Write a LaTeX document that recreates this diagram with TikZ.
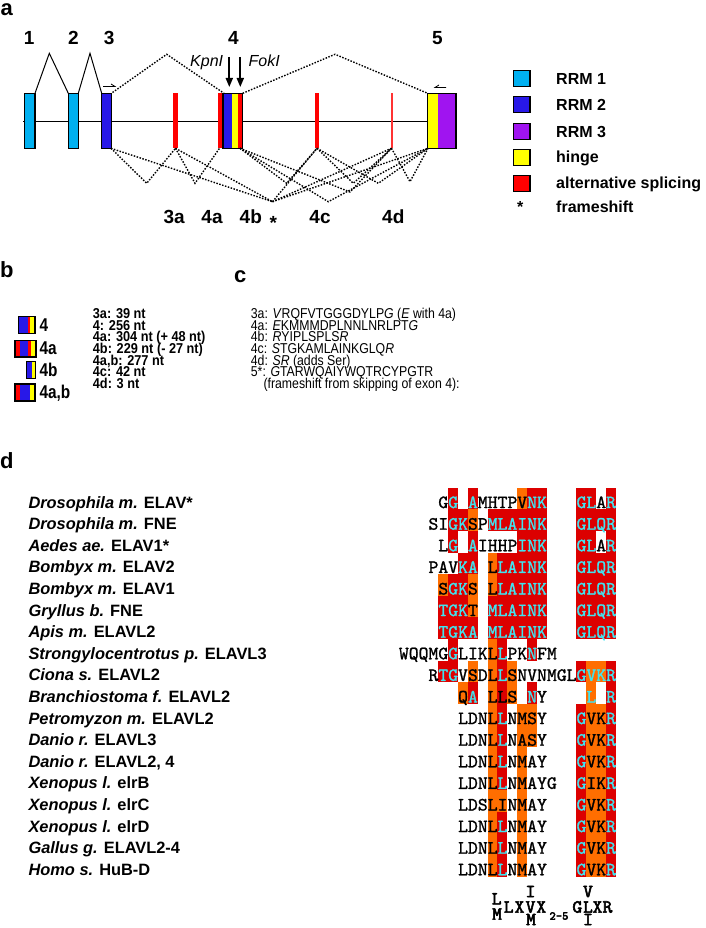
\documentclass[tikz,border=0pt]{standalone}
\usepackage{fontspec}
\setmainfont{Liberation Sans}
\newfontfamily\narrowfont[FakeStretch=0.83]{Liberation Sans}
\newfontfamily\narrowB[FakeStretch=0.89]{Liberation Sans}
\newfontfamily\narrowC[FakeStretch=0.86]{Liberation Sans}
\newfontfamily\seqfont[FakeBold=1.2]{lmmono10-regular.otf}
\newfontfamily\motiffont[FakeBold=3]{lmmono10-regular.otf}
\usetikzlibrary{arrows.meta}
\definecolor{rrmA}{RGB}{0,176,240}
\definecolor{rrmB}{RGB}{40,24,232}
\definecolor{rrmC}{RGB}{160,20,240}
\definecolor{hingeY}{RGB}{255,255,0}
\definecolor{altR}{RGB}{255,0,0}
\definecolor{bgR}{RGB}{220,0,0}
\definecolor{bgO}{RGB}{255,110,0}
\definecolor{cy}{RGB}{64,228,240}
\newcommand\C[1]{\textcolor{cy}{#1}}
\newcommand\bgcell[3]{\fill[#3] ({428.3+#1*9.87},{502.3+(#2-1)*21.6-14.5}) rectangle ({428.3+(#1+1)*9.87},{502.3+(#2-1)*21.6+7.1});}
\newcommand\seqrow[3]{\node[seqtext] (seq#1) at ({428.3+#2*9.87},{508.1+(#1-1)*21.6}) {#3};}
\newcommand\sprow[3]{\node[spname] (sp#1) at (28.3,{508.1+(#1-1)*21.6}) {\textit{#2} #3};}
\begin{document}
\begin{tikzpicture}[x=1pt,y=-1pt,
  exonbox/.style={draw=black,line width=1.2pt},
  dotline/.style={line width=1.4pt,dash pattern=on 1.5pt off 1.5pt},
  panel/.style={font=\bfseries\fontsize{22}{24}\selectfont,anchor=base west,inner sep=0},
  exlabel/.style={font=\bfseries\fontsize{19}{21}\selectfont,anchor=base,inner sep=0},
  legtext/.style={font=\bfseries\fontsize{16}{18}\selectfont,anchor=west,inner sep=0},
  enzyme/.style={font=\itshape\fontsize{16}{18}\selectfont,anchor=base,inner sep=0},
  btext/.style={font=\narrowB\bfseries\fontsize{14.3}{15}\selectfont,anchor=base west,inner sep=0},
  ctext/.style={font=\narrowC\fontsize{14.3}{15}\selectfont,anchor=base west,inner sep=0},
  iconlab/.style={font=\narrowfont\bfseries\fontsize{18.5}{20}\selectfont,anchor=west,inner sep=0},
  seqtext/.style={font=\seqfont\fontsize{18.8}{20}\selectfont,anchor=base west,inner sep=0},
  spname/.style={font=\bfseries\fontsize{16.4}{18}\selectfont,anchor=base west,inner sep=0},
  motif/.style={font=\motiffont\fontsize{18.5}{19}\selectfont,inner sep=0},
]
\useasboundingbox (0,0) rectangle (705,928);
% ---------------- panel a ----------------
\node[panel] (pa) at (0.5,16) {a};
\draw[line width=1pt] (23,121.7) -- (427.7,121.7);
% exons
\fill[rrmA] (24.3,93.3) rectangle (35,148.3);
\draw[exonbox] (24.3,93.3) rectangle (35,148.3);
\fill[rrmA] (68.3,93.3) rectangle (78.3,148.3);
\draw[exonbox] (68.3,93.3) rectangle (78.3,148.3);
\fill[rrmB] (101.7,93.3) rectangle (111.7,148.3);
\draw[exonbox] (101.7,93.3) rectangle (111.7,148.3);
\fill[altR] (173.3,93.3) rectangle (177.7,148.3);
\fill[altR] (218.3,93.3) rectangle (223,148.3);
\fill[rrmB] (223,93.3) rectangle (232.3,148.3);
\fill[hingeY] (232.3,93.3) rectangle (237.7,148.3);
\fill[altR] (237.7,93.3) rectangle (242.7,148.3);
\draw[exonbox] (223,93.3) rectangle (242.7,148.3);
\fill[altR] (315,93.3) rectangle (319.3,148.3);
\fill[altR!80] (390.7,93.3) rectangle (392.5,148.3);
\fill[hingeY] (427.7,93.3) rectangle (438.3,148.3);
\fill[rrmC] (438.3,93.3) rectangle (456,148.3);
\draw[exonbox] (427.7,93.3) rectangle (456,148.3);
% coordinates for connectors
\coordinate (e1r) at (35,93.3);
\coordinate (e2l) at (68.3,93.3);
\coordinate (e2r) at (78.3,93.3);
\coordinate (e3l) at (101.7,93.3);
\coordinate (e3t) at (112.5,92.5);
\coordinate (e4tl) at (224,93.3);
\coordinate (e4tr) at (242.7,93.3);
\coordinate (e5tl) at (427.7,93.3);
\coordinate (p1) at (49.3,53.3);
\coordinate (p2) at (90,53.3);
\coordinate (p3) at (166.7,54.3);
\coordinate (p4) at (335,54.3);
\coordinate (b3) at (111,148.3);
\coordinate (b3a) at (175.5,148.3);
\coordinate (b4a) at (219.5,148.3);
\coordinate (b4) at (240,148.3);
\coordinate (b4c) at (317,148.3);
\coordinate (b4d) at (391.5,148.3);
\coordinate (b5) at (428,148.3);
\coordinate (star) at (272.5,201.7);
% splice lines
\draw[line width=1pt] (e1r) -- (p1) -- (e2l);
\draw[line width=1pt] (e2r) -- (p2) -- (e3l);
\draw[dotline] (e3t) -- (p3) -- (e4tl);
\draw[dotline] (e4tr) -- (p4) -- (e5tl);
\draw[dotline] (b3) -- (146.7,183.3) -- (b3a);
\draw[dotline] (b3a) -- (195,183.3) -- (b4a);
\draw[dotline] (b3) -- (star);
\draw[dotline] (b3a) -- (star);
\draw[dotline] (star) -- (b4c);
\draw[dotline] (star) -- (b4d);
\draw[dotline] (star) -- (b5);
\draw[dotline] (b4) -- (286.7,183.3) -- (b4c);
\draw[dotline] (b4) -- (328.3,201.7) -- (b5);
\draw[dotline] (b4) -- (350,192) -- (b4d);
\draw[dotline] (b4c) -- (353.3,183.3) -- (b4d);
\draw[dotline] (b4c) -- (378.3,183.3) -- (b5);
\draw[dotline] (b4d) -- (410,181.7) -- (b5);
% primer half-arrows
\draw[line width=0.8pt] (103,86.5) -- (115,86.5) -- (111,84);
\draw[line width=0.8pt] (446,87.5) -- (435,87.5) -- (439,85);
% restriction arrows
\draw[line width=1.8pt,-{Triangle[length=9pt,width=7pt]}] (229.3,57) -- (229.3,87);
\draw[line width=1.8pt,-{Triangle[length=9pt,width=7pt]}] (240.3,57) -- (240.3,87);
\node[enzyme] (kpn) at (206.7,66.7) {KpnI};
\node[enzyme] (fok) at (264.2,66.7) {FokI};
% exon numbers
\node[exlabel] (n1) at (29.2,45) {1};
\node[exlabel] (n2) at (73.3,45) {2};
\node[exlabel] (n3) at (109.2,45) {3};
\node[exlabel] (n4) at (233.3,45) {4};
\node[exlabel] (n5) at (437.5,45) {5};
\node[exlabel] (l3a) at (174.2,223.3) {3a};
\node[exlabel] (l4a) at (212,223.3) {4a};
\node[exlabel] (l4b) at (250.8,223.3) {4b};
\node[exlabel] (lst) at (273.3,229) {*};
\node[exlabel] (l4c) at (320,223.3) {4c};
\node[exlabel] (l4d) at (393.3,223.3) {4d};
% legend
\draw[exonbox,fill=rrmA] (513.3,70.7) rectangle (530,86.7);
\draw[exonbox,fill=rrmB] (513.3,96.7) rectangle (530,112.7);
\draw[exonbox,fill=rrmC] (513.3,123.3) rectangle (530,139.3);
\draw[exonbox,fill=hingeY] (513.3,149.3) rectangle (530,165.3);
\draw[exonbox,fill=altR] (513.3,175.7) rectangle (530,191.7);
\node[legtext] (lg1) at (556,79.3) {RRM 1};
\node[legtext] (lg2) at (556,105) {RRM 2};
\node[legtext] (lg3) at (556,131.7) {RRM 3};
\node[legtext] (lg4) at (556,158.3) {hinge};
\node[legtext] (lg5) at (556,184) {alternative splicing};
\node[legtext] (lg6s) at (517,206.5) {*};
\node[legtext] (lg6) at (556,206.7) {frameshift};
% ---------------- panel b ----------------
\node[panel] (pb) at (0,277) {b};
% icon 4
\fill[rrmB] (18.3,316.7) rectangle (27.8,333.3);
\fill[altR] (27.8,316.7) rectangle (30,333.3);
\fill[hingeY] (30,316.7) rectangle (35,333.3);
\draw[exonbox] (18.3,316.7) rectangle (35,333.3);
% icon 4a
\fill[altR] (15,340.3) rectangle (20,357);
\fill[rrmB] (20,340.3) rectangle (28.3,357);
\fill[altR] (28.3,340.3) rectangle (30.5,357);
\fill[hingeY] (30.5,340.3) rectangle (36,357);
\draw[exonbox] (15,340.3) rectangle (36,357);
% icon 4b
\fill[rrmB] (26.7,361.7) rectangle (31.5,378.3);
\fill[hingeY] (31.5,361.7) rectangle (35.7,378.3);
\draw[exonbox] (26.7,361.7) rectangle (35.7,378.3);
% icon 4a,b
\fill[altR] (15,384) rectangle (20,401);
\fill[rrmB] (20,384) rectangle (29.5,401);
\fill[hingeY] (29.5,384) rectangle (35,401);
\draw[exonbox] (15,384) rectangle (35,401);
\node[iconlab] (i4) at (39.3,325) {4};
\node[iconlab] (i4a) at (39.3,348.5) {4a};
\node[iconlab] (i4b) at (39.3,370) {4b};
\node[iconlab] (i4ab) at (39.3,393) {4a,b};
\node[btext] (bt1) at (92.7,318.3) {3a: 39 nt};
\node[btext] (bt2) at (92.7,330) {4: 256 nt};
\node[btext] (bt3) at (92.7,341.7) {4a: 304 nt (+ 48 nt)};
\node[btext] (bt4) at (92.7,353.3) {4b: 229 nt (- 27 nt)};
\node[btext] (bt5) at (92.7,365) {4a,b: 277 nt};
\node[btext] (bt6) at (92.7,376.7) {4c: 42 nt};
\node[btext] (bt7) at (92.7,388.3) {4d: 3 nt};
% ---------------- panel c ----------------
\node[panel] (pc) at (234,282) {c};
\node[ctext] (ct1) at (250.7,318.3) {3a: \textit{V}RQFVTGGGDYLP\textit{G} (\textit{E} with 4a)};
\node[ctext] (ct2) at (250.7,330) {4a: \textit{E}KMMMDPLNNLNRLPT\textit{G}};
\node[ctext] (ct3) at (250.7,341.7) {4b: \textit{R}YIPLSPLS\textit{R}};
\node[ctext] (ct4) at (250.7,353.3) {4c: \textit{S}TGKAMLAINKGLQ\textit{R}};
\node[ctext] (ct5) at (250.7,365) {4d: \textit{SR} (adds Ser)};
\node[ctext] (ct6) at (250.7,376.7) {5*: \textit{G}TARWQAIYWQTRCYPGTR};
\node[ctext] (ct7) at (263.3,388.3) {(frameshift from skipping of exon 4):};
% ---------------- panel d ----------------
\node[panel] (pd) at (0,468) {d};
% backgrounds
\foreach \c in {2,4,10,11,15,16,18} {\bgcell{\c}{1}{bgR}}
\bgcell{9}{1}{bgO}
\foreach \c in {2,3,6,7,8,9,10,11,15,16,17,18} {\bgcell{\c}{2}{bgR}}
\bgcell{4}{2}{bgO}
\foreach \c in {2,4,9,10,11,15,16,18} {\bgcell{\c}{3}{bgR}}
\foreach \c in {3,4,7,8,9,10,11,15,16,17,18} {\bgcell{\c}{4}{bgR}}
\bgcell{6}{4}{bgO}
\foreach \c in {2,3,7,8,9,10,11,15,16,17,18} {\bgcell{\c}{5}{bgR}}
\foreach \c in {1,4,6} {\bgcell{\c}{5}{bgO}}
\foreach \c in {1,2,3,6,7,8,9,10,11,15,16,17,18} {\bgcell{\c}{6}{bgR}}
\bgcell{4}{6}{bgO}
\foreach \c in {1,2,3,4,6,7,8,9,10,11,15,16,17,18} {\bgcell{\c}{7}{bgR}}
\foreach \c in {2,7,10} {\bgcell{\c}{8}{bgR}}
\bgcell{6}{8}{bgO}
\foreach \c in {1,2,7,15,18} {\bgcell{\c}{9}{bgR}}
\foreach \c in {4,6,8,16,17} {\bgcell{\c}{9}{bgO}}
\foreach \c in {4,7,10,18} {\bgcell{\c}{10}{bgR}}
\foreach \c in {3,6,8,16} {\bgcell{\c}{10}{bgO}}
\foreach \r in {11,12} {
  \foreach \c in {7,15,18} {\bgcell{\c}{\r}{bgR}}
  \foreach \c in {6,9,10,16,17} {\bgcell{\c}{\r}{bgO}}
}
\foreach \r in {13,14,16,17,18} {
  \foreach \c in {7,15,18} {\bgcell{\c}{\r}{bgR}}
  \foreach \c in {6,9,16,17} {\bgcell{\c}{\r}{bgO}}
}
\foreach \c in {15,18} {\bgcell{\c}{15}{bgR}}
\foreach \c in {6,7,9,16,17} {\bgcell{\c}{15}{bgO}}
% sequences
\seqrow{1}{1}{G\C{G}~\C{A}MHTPV\C{NK}~~~\C{GL}A\C{R}}
\seqrow{2}{0}{SI\C{GK}SP\C{MLAINK}~~~\C{GLQR}}
\seqrow{3}{1}{L\C{G}~\C{A}IHHP\C{INK}~~~\C{GL}A\C{R}}
\seqrow{4}{0}{PAV\C{KA}~L\C{LAINK}~~~\C{GLQR}}
\seqrow{5}{1}{S\C{GK}S~L\C{LAINK}~~~\C{GLQR}}
\seqrow{6}{1}{\C{TGK}T~\C{MLAINK}~~~\C{GLQR}}
\seqrow{7}{1}{\C{TGKA}~\C{MLAINK}~~~\C{GLQR}}
\seqrow{8}{-3}{WQQMG\C{G}LIKL\C{L}PK\C{N}FM}
\seqrow{9}{0}{R\C{TG}VSDL\C{L}SNVNMGL\C{GVKR}}
\seqrow{10}{3}{Q\C{A}~LLS~\C{N}Y~~~~\C{L}~\C{R}}
\seqrow{11}{3}{LDNL\C{L}NMSY~~~\C{G}VK\C{R}}
\seqrow{12}{3}{LDNL\C{L}NASY~~~\C{G}VK\C{R}}
\seqrow{13}{3}{LDNL\C{L}NMAY~~~\C{G}VK\C{R}}
\seqrow{14}{3}{LDNL\C{L}NMAYG~~\C{G}IK\C{R}}
\seqrow{15}{3}{LDSLINMAY~~~\C{G}VK\C{R}}
\seqrow{16}{3}{LDNL\C{L}NMAY~~~\C{G}VK\C{R}}
\seqrow{17}{3}{LDNL\C{L}NMAY~~~\C{G}VK\C{R}}
\seqrow{18}{3}{LDNL\C{L}NMAY~~~\C{G}VK\C{R}}
% species
\sprow{1}{Drosophila m.}{ELAV*}
\sprow{2}{Drosophila m.}{FNE}
\sprow{3}{Aedes ae.}{ELAV1*}
\sprow{4}{Bombyx m.}{ELAV2}
\sprow{5}{Bombyx m.}{ELAV1}
\sprow{6}{Gryllus b.}{FNE}
\sprow{7}{Apis m.}{ELAVL2}
\sprow{8}{Strongylocentrotus p.}{ELAVL3}
\sprow{9}{Ciona s.}{ELAVL2}
\sprow{10}{Branchiostoma f.}{ELAVL2}
\sprow{11}{Petromyzon m.}{ELAVL2}
\sprow{12}{Danio r.}{ELAVL3}
\sprow{13}{Danio r.}{ELAVL2, 4}
\sprow{14}{Xenopus l.}{elrB}
\sprow{15}{Xenopus l.}{elrC}
\sprow{16}{Xenopus l.}{elrD}
\sprow{17}{Gallus g.}{ELAVL2-4}
\sprow{18}{Homo s.}{HuB-D}
% motif
\node[motif] (m1) at (496.7,898.8) {L};
\node[motif] (m2) at (497,914) {M};
\node[motif] (m3) at (508.7,907) {L};
\node[motif] (m4) at (519.5,907) {X};
\node[motif] (m5) at (530.5,907) {V};
\node[motif] (m6) at (530.5,891.5) {I};
\node[motif] (m7) at (531,919.5) {M};
\node[motif] (m8) at (541.3,907) {X};
\node[motif,font=\motiffont\fontsize{12}{12}\selectfont] (m9) at (559,916) {2-5};
\node[motif] (m10) at (577.3,907) {G};
\node[motif] (m11) at (588,907) {L};
\node[motif] (m12) at (588,891.5) {V};
\node[motif] (m13) at (588,919.5) {I};
\node[motif] (m14) at (597.5,907) {X};
\node[motif] (m15) at (607.5,907) {R};
\end{tikzpicture}
\end{document}
